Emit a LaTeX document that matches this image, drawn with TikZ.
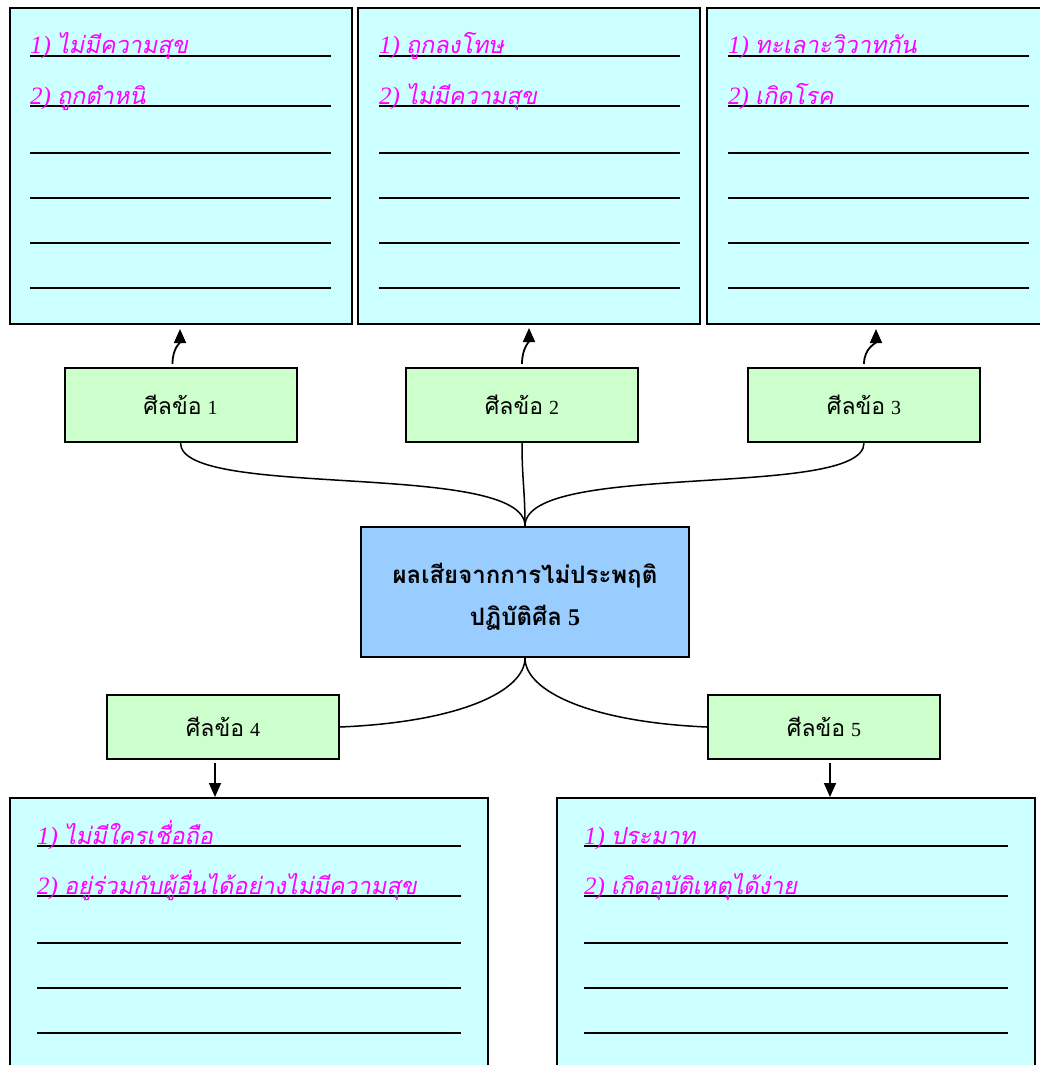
\documentclass[tikz,border=0pt]{standalone}
\usepackage{fontspec}
\setmainfont{Liberation Serif}
\newfontfamily\thai[Script=Thai, ItalicFont=Loma, ItalicFeatures={FakeSlant=0.2}]{Loma}
\usetikzlibrary{arrows.meta}
\definecolor{cyanbox}{HTML}{CCFFFF}
\definecolor{greenbox}{HTML}{CCFFCC}
\definecolor{bluebox}{HTML}{99CCFF}
\definecolor{mag}{HTML}{FF00FF}
\newcommand\numitem[2]{{\fontsize{25}{25}\selectfont\itshape #1}\hspace{6pt}{\thai\itshape #2}}
\newcommand\sillabel[1]{{\fontsize{23}{24}\selectfont\thai ศีลข้อ}\hspace{6pt}#1}
\tikzset{
  notebox/.style={draw=black, line width=2pt, fill=cyanbox, inner sep=0pt},
  silbox/.style={draw=black, line width=2pt, fill=greenbox, minimum width=232pt, minimum height=74pt, inner sep=0pt, font=\fontsize{20}{22}\selectfont},
  sil2box/.style={silbox, minimum height=64pt},
  mainbox/.style={draw=black, line width=2pt, fill=bluebox, minimum width=328pt, minimum height=130pt, inner sep=0pt},
  rule/.style={line width=1.2pt, black},
  itemtxt/.style={anchor=base west, inner sep=0pt, text=mag, font=\fontsize{23.5}{25}\selectfont},
  maintxt/.style={anchor=base, inner sep=0pt, font=\fontsize{24}{26}\selectfont\bfseries},
  conn/.style={line width=1.5pt, black},
  arr/.style={line width=1.8pt, black, -{Triangle[length=14pt,width=12pt]}}
}
\begin{document}
\begin{tikzpicture}[x=1pt,y=-1pt]
\useasboundingbox (0,0) rectangle (1040,1065);
% top note boxes
\node[notebox, minimum width=342pt, minimum height=316pt] (t1) at (181,166) {};
\node[notebox, minimum width=342pt, minimum height=316pt] (t2) at (529,166) {};
\node[notebox, minimum width=342pt, minimum height=316pt] (t3) at (878,166) {};
% bottom note boxes
\node[notebox, minimum width=478pt, minimum height=320pt] (b4) at (249,958) {};
\node[notebox, minimum width=478pt, minimum height=320pt] (b5) at (796,958) {};
% ruled lines
\foreach \y in {56,106,153,198,243,288} {
  \draw[rule] (30,\y) -- (331,\y);
  \draw[rule] (379,\y) -- (680,\y);
  \draw[rule] (728,\y) -- (1029,\y);
}
\foreach \y in {846,896,943,988,1033} {
  \draw[rule] (37,\y) -- (461,\y);
  \draw[rule] (584,\y) -- (1008,\y);
}
% item texts
\node[itemtxt] (t1a) at (30,54) {\numitem{1)}{ไม่มีความสุข}};
\node[itemtxt] (t1b) at (30,104) {\numitem{2)}{ถูกตำหนิ}};
\node[itemtxt] (t2a) at (379,54) {\numitem{1)}{ถูกลงโทษ}};
\node[itemtxt] (t2b) at (379,104) {\numitem{2)}{ไม่มีความสุข}};
\node[itemtxt] (t3a) at (728,54) {\numitem{1)}{ทะเลาะวิวาทกัน}};
\node[itemtxt] (t3b) at (728,104) {\numitem{2)}{เกิดโรค}};
\node[itemtxt] (b4a) at (37,844) {\numitem{1)}{ไม่มีใครเชื่อถือ}};
\node[itemtxt] (b4b) at (37,894) {\numitem{2)}{อยู่ร่วมกับผู้อื่นได้อย่างไม่มีความสุข}};
\node[itemtxt] (b5a) at (584,844) {\numitem{1)}{ประมาท}};
\node[itemtxt] (b5b) at (584,894) {\numitem{2)}{เกิดอุบัติเหตุได้ง่าย}};
% sil boxes
\node[silbox] (g1) at (180.5,405) {\sillabel{1}};
\node[silbox] (g2) at (522,405) {\sillabel{2}};
\node[silbox] (g3) at (864,405) {\sillabel{3}};
\node[sil2box] (g4) at (223,727) {\sillabel{4}};
\node[sil2box] (g5) at (824,727) {\sillabel{5}};
% main box
\node[mainbox] (c) at (525,592) {};
\node[maintxt] (c1) at (525,583) {\thai ผลเสียจากการไม่ประพฤติ};
\node[maintxt] (c2) at (525,625) {{\thai ปฏิบัติศีล} 5};
% connectors to main box
\draw[conn] (g1.south) .. controls +(0,57) and (525,460) .. (c.north);
\draw[conn] (g2.south) .. controls +(0,37) and (525,490) .. (c.north);
\draw[conn] (g3.south) .. controls +(0,57) and (525,460) .. (c.north);
\draw[conn] (c.south) .. controls +(0,33) and (460,722) .. (g4.east);
\draw[conn] (c.south) .. controls +(0,33) and (590,722) .. (g5.west);
% arrows to note boxes
\draw[arr] ([xshift=-8pt,yshift=3pt]g1.north) .. controls +(0,-16) and +(0,14) .. ([xshift=-1pt,yshift=-4pt]t1.south);
\draw[arr] ([yshift=3pt]g2.north) .. controls +(0,-16) and +(0,14) .. ([yshift=-3pt]t2.south);
\draw[arr] ([yshift=3pt]g3.north) .. controls +(0,-16) and +(0,14) .. ([xshift=-2pt,yshift=-4pt]t3.south);
\draw[arr] ([xshift=-8pt,yshift=-3pt]g4.south) -- ([xshift=-8pt]g4.south |- b4.north);
\draw[arr] ([xshift=6pt,yshift=-3pt]g5.south) -- ([xshift=6pt]g5.south |- b5.north);
\end{tikzpicture}
\end{document}
